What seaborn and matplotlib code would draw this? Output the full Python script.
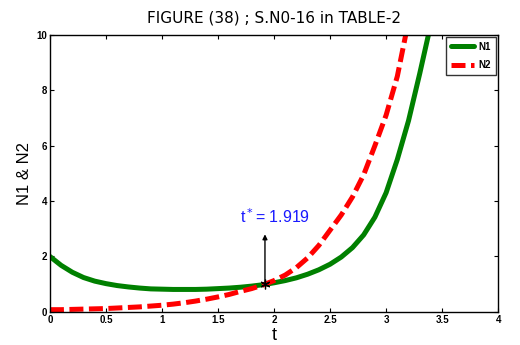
import numpy as np
import pandas as pd
import matplotlib
matplotlib.use('Agg')
import matplotlib.pyplot as plt
import seaborn as sns

# values
t_vals = [0.0, 0.1, 0.2, 0.3, 0.4, 0.5, 0.6, 0.7, 0.8, 0.9,
          1.0, 1.1, 1.2, 1.3, 1.4, 1.5, 1.6, 1.7, 1.8, 1.9,
          2.0, 2.1, 2.2, 2.3, 2.4, 2.5, 2.6, 2.7, 2.8, 2.9,
          3.0, 3.1, 3.2, 3.3, 3.4]
n1_vals = [2.0, 1.68, 1.43, 1.24, 1.11, 1.02, 0.95, 0.90, 0.86, 0.83,
           0.82, 0.81, 0.81, 0.81, 0.82, 0.84, 0.86, 0.89, 0.93, 0.98,
           1.05, 1.13, 1.23, 1.36, 1.52, 1.72, 1.98, 2.32, 2.78, 3.42,
           4.3, 5.5, 6.9, 8.6, 10.4]
n2_vals = [0.08, 0.08, 0.09, 0.10, 0.11, 0.12, 0.14, 0.16, 0.18, 0.21,
           0.24, 0.28, 0.33, 0.39, 0.46, 0.54, 0.63, 0.74, 0.84, 0.97,
           1.13, 1.33, 1.60, 1.95, 2.40, 2.95, 3.50, 4.15, 4.95, 6.0,
           7.1, 8.5, 10.5, None, None]
t_star = 1.919
n_star = 1.0
arrow_top = 2.8

df = pd.DataFrame({'t': t_vals, 'N1': n1_vals, 'N2': n2_vals})

sns.set_theme(style='ticks')
plt.rcParams['font.family'] = ['Liberation Sans', 'DejaVu Sans']
plt.rcParams['text.color'] = 'black'
plt.rcParams['axes.labelcolor'] = 'black'

fig, ax = plt.subplots(figsize=(5.2, 3.45), dpi=100)
fig.subplots_adjust(left=0.096, right=0.958, bottom=0.096, top=0.899)

sns.lineplot(data=df, x='t', y='N1', ax=ax, color='#008000', linewidth=3.6, label='N1')
sns.lineplot(data=df.dropna(), x='t', y='N2', ax=ax, color='#ff0000', linewidth=3.6,
             label='N2')
ax.lines[1].set_dashes([2.8, 1.1])

# crossing point and arrow
ax.annotate('', xy=(t_star, arrow_top), xytext=(t_star, n_star),
            arrowprops=dict(arrowstyle='-|>', color='black', lw=1.0,
                            mutation_scale=7, shrinkA=0, shrinkB=0))
ax.plot([t_star], [n_star], marker=(6, 2, 0), color='black', markersize=7,
        markeredgewidth=0.9)
ax.text(t_star + 0.09, 3.45, r't$^*$= 1.919', color='#1a1aff', fontsize=11.5,
        ha='center', va='center')

ax.set_xlim(0, 4)
ax.set_ylim(0, 10)
ax.set_xticks(np.arange(0, 4.01, 0.5))
ax.set_xticklabels(['0', '0.5', '1', '1.5', '2', '2.5', '3', '3.5', '4'])
ax.set_yticks([0, 2, 4, 6, 8, 10])
ax.tick_params(direction='in', length=3, width=0.8, top=True, right=True,
               labelsize=7, pad=2, colors='black')
for lab in ax.get_xticklabels() + ax.get_yticklabels():
    lab.set_fontweight('bold')
for sp in ax.spines.values():
    sp.set_linewidth(1.0)
    sp.set_color('black')

ax.set_xlabel('t', fontsize=13, labelpad=2)
ax.set_ylabel('N1 & N2', fontsize=12, labelpad=3)
ax.set_title('FIGURE (38) ; S.N0-16 in TABLE-2', fontsize=11, pad=9,
             family='DejaVu Sans')

leg = ax.legend(loc='upper right', fontsize=7, frameon=True, fancybox=False,
                handlelength=2.4, borderpad=0.5, labelspacing=0.9,
                handletextpad=0.5, borderaxespad=0.2)
leg.get_frame().set_edgecolor('black')
leg.get_frame().set_linewidth(1.0)
for txt in leg.get_texts():
    txt.set_fontweight('bold')

fig.savefig('out.png', dpi=100)
